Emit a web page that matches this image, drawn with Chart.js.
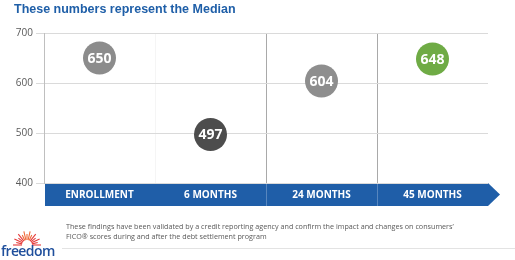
<!DOCTYPE html>
<html>
<head>
<meta charset="utf-8">
<script src="https://cdn.jsdelivr.net/npm/chart.js@4"></script>
<style>
  body { margin: 0; background: #fff; }
  #wrap { position: relative; width: 515px; height: 260px; overflow: hidden; }
  #title { position: absolute; left: 14px; top: 2px; font: bold 12.5px "Liberation Sans", Arial, sans-serif; color: #1f5fa8; }
  #note { position: absolute; left: 66px; top: 221px; font: 7.2px/10px "Open Sans", sans-serif; color: #595959; }
  #rule { position: absolute; left: 62px; top: 248px; width: 453px; height: 1px; background: #e3e3e3; }
  #logo { position: absolute; left: 1px; top: 241px; font: 600 14px "Open Sans", sans-serif; color: #1f4f9c; letter-spacing: -0.6px; }
  #sun { position: absolute; left: 10px; top: 228px; }
</style>
</head>
<body>
<div id="wrap">
  <canvas id="medianChart" width="515" height="260"></canvas>
  <div id="title">These numbers represent the Median</div>
  <div id="note">These findings have been validated by a credit reporting agency and confirm the impact and changes on consumers’<br>FICO® scores during and after the debt settlement program</div>
  <div id="rule"></div>
  <svg id="sun" width="34" height="18"></svg>
  <div id="logo">freedom</div>
</div>
<script>
// data
const categories = ["ENROLLMENT", "6 MONTHS", "24 MONTHS", "45 MONTHS"];
const medianScores = [650, 497, 604, 648];
const yTicks = [400, 500, 600, 700];

// styling
const bubbleColors = ["#8c8c8c", "#4d4d4d", "#8e8e8e", "#6fab45"];
const bandBlue = "#1f5ea8";

// little sunburst above the logo
(function () {
  const svg = document.getElementById("sun");
  const cx = 17, cy = 17;
  let html = "";
  for (let i = 0; i <= 14; i++) {
    const a = Math.PI + (Math.PI * i) / 14;
    const r1 = 5, r2 = i % 2 ? 11 : 14;
    const col = i < 5 || i > 9 ? "#e53b3b" : "#ef6a3a";
    html += `<line x1="${cx + r1 * Math.cos(a)}" y1="${cy + r1 * Math.sin(a)}" x2="${cx + r2 * Math.cos(a)}" y2="${cy + r2 * Math.sin(a)}" stroke="${col}" stroke-width="1.1"/>`;
  }
  svg.innerHTML = html;
})();

const bandPlugin = {
  id: "band",
  beforeDraw(chart) {
    const { ctx, chartArea } = chart;
    const x = chart.scales.x;
    const top = chartArea.bottom, h = 23;
    const left = chartArea.left + 1, right = chartArea.right;
    ctx.save();
    ctx.fillStyle = bandBlue;
    ctx.beginPath();
    ctx.moveTo(left, top);
    ctx.lineTo(right, top);
    ctx.lineTo(right + 12, top + h / 2);
    ctx.lineTo(right, top + h);
    ctx.lineTo(left, top + h);
    ctx.closePath();
    ctx.fill();
    ctx.strokeStyle = "rgba(255,255,255,0.25)";
    ctx.lineWidth = 1;
    [1.5, 2.5].forEach(v => {
      const px = Math.round(x.getPixelForValue(v)) + 0.5;
      ctx.beginPath();
      ctx.moveTo(px, top);
      ctx.lineTo(px, top + h);
      ctx.stroke();
    });
    ctx.restore();
  }
};

const labelPlugin = {
  id: "bubbleLabels",
  afterDatasetsDraw(chart) {
    const { ctx } = chart;
    const meta = chart.getDatasetMeta(0);
    ctx.save();
    ctx.fillStyle = "#fff";
    ctx.font = "bold 14px 'Open Sans', sans-serif";
    ctx.textAlign = "center";
    ctx.textBaseline = "middle";
    meta.data.forEach((pt, i) => {
      ctx.fillText(String(medianScores[i]), pt.x, pt.y + 1);
    });
    ctx.restore();
  }
};

new Chart(document.getElementById("medianChart"), {
  type: "line",
  data: {
    labels: categories,
    datasets: [{
      data: medianScores,
      showLine: false,
      pointRadius: 16.5,
      pointHoverRadius: 16.5,
      pointBorderWidth: 0,
      pointBackgroundColor: bubbleColors
    }]
  },
  options: {
    responsive: false,
    animation: false,
    events: [],
    layout: { padding: { top: 33, right: 27, bottom: 54, left: 0 } },
    plugins: { legend: { display: false }, tooltip: { enabled: false } },
    scales: {
      x: {
        offset: true,
        grid: {
          offset: true,
          drawTicks: false,
          color: c => (c.index === 2 || c.index === 3) ? "#a9a9a9" : (c.index === 1 ? "#f5f5f5" : "rgba(0,0,0,0)")
        },
        border: { display: false },
        ticks: { color: "#fff", padding: 6, font: { family: "'Open Sans', sans-serif", size: 10, weight: "bold" } },
        afterFit: s => { s.height = 23; }
      },
      y: {
        min: 400,
        max: 700,
        afterBuildTicks: s => { s.ticks = yTicks.map(v => ({ value: v })); },
        grid: { color: "#dadada", tickColor: "#dadada", tickLength: 8 },
        border: { color: "#bfbfbf" },
        ticks: { color: "#595959", padding: 3, font: { family: "'Open Sans', sans-serif", size: 10 } },
        afterFit: s => { s.width = 44; }
      }
    }
  },
  plugins: [bandPlugin, labelPlugin]
});
</script>
</body>
</html>
